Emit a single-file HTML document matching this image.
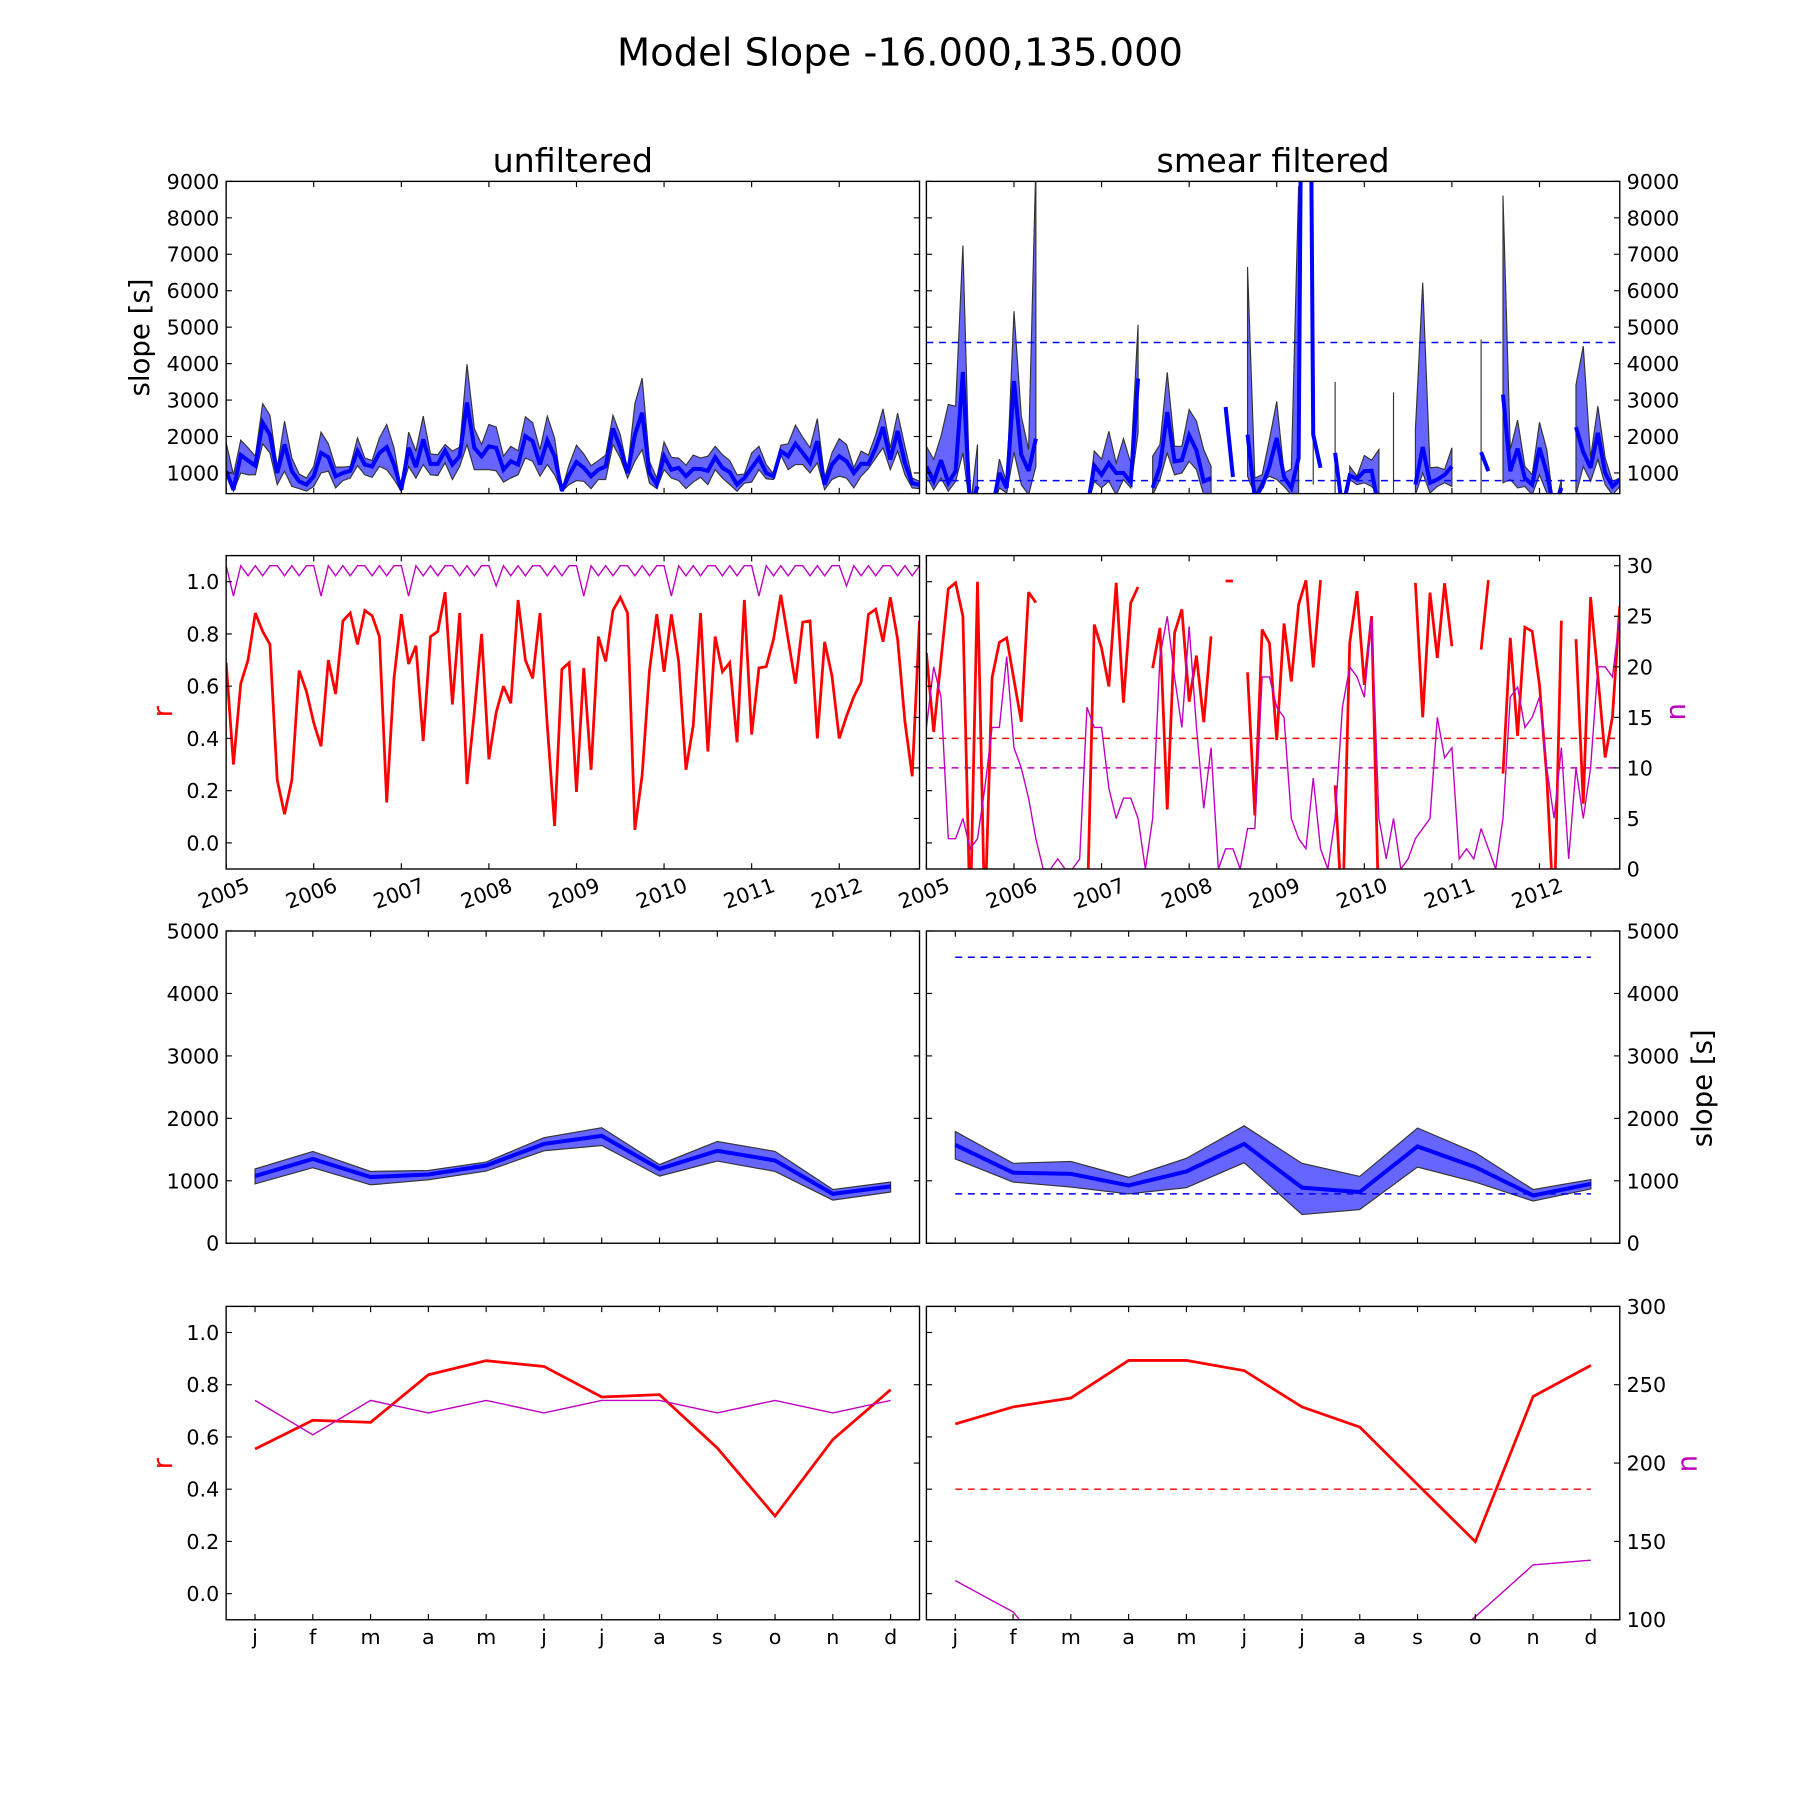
<!DOCTYPE html>
<html><head><meta charset="utf-8"><title>Model Slope</title>
<style>
html,body{margin:0;padding:0;background:#fff;}
svg{display:block;}
text{font-family:"DejaVu Sans","Liberation Sans",sans-serif;}
</style></head>
<body>
<svg id="fig" xmlns="http://www.w3.org/2000/svg" width="1800" height="1800" viewBox="0 0 1568 1568">
<rect x="0" y="0" width="1568" height="1568" fill="#fff"/>
<text x="784" y="57" font-size="33.5" text-anchor="middle">Model Slope -16.000,135.000</text>
<text x="499" y="150" font-size="29" text-anchor="middle">unfiltered</text>
<text x="1109" y="150" font-size="29" text-anchor="middle">smear filtered</text>
<g id="root"></g>
</svg>
<script>
// ---------- data ----------
const years = ["2005","2006","2007","2008","2009","2010","2011","2012"];
const months = ["j","f","m","a","m","j","j","a","s","o","n","d"];

// Row 1 left: monthly slope (unfiltered)
const uMean = [1050,540,1490,1340,1200,2380,2050,1000,1780,1050,770,680,910,1550,1430,910,1000,1060,1600,1230,1180,1550,1710,1230,540,1690,1160,1920,1250,1250,1610,1230,1460,2930,1690,1460,1730,1690,1090,1320,1230,2010,1870,1230,1890,1460,510,950,1300,1140,910,1090,1180,2220,1690,1000,2050,2650,1000,680,1460,1090,1140,910,1110,1110,1060,1430,1140,1020,680,860,1140,1410,1000,910,1600,1460,1800,1550,1280,1870,680,1230,1460,1320,1000,1250,1250,1690,2260,1370,2150,1280,720,680];
const uUpper = [1830,950,1900,1690,1460,2900,2580,1140,2420,1410,970,860,1180,2120,1800,1160,1160,1180,1960,1410,1340,1960,2330,1690,540,2120,1600,2560,1520,1500,1780,1600,1710,3980,2220,1780,2330,2260,1460,1730,1610,2540,2380,1640,2560,1960,540,1230,1760,1520,1200,1340,1490,2580,2050,1090,2900,3600,1320,860,1850,1430,1410,1210,1490,1410,1460,1730,1500,1340,950,970,1550,1730,1230,970,1760,1800,2310,1980,1690,2490,860,1550,1940,1780,1140,1600,1490,2050,2760,1690,2640,1730,860,770];
const uLower = [1000,500,1000,950,950,1800,1550,680,1050,630,570,500,630,1000,1050,590,790,860,1200,950,880,1180,1090,820,500,1180,860,1230,950,930,1280,820,1180,1780,1090,1090,1090,1060,750,860,950,1410,1320,910,1230,950,500,680,790,770,570,820,820,1780,1410,860,1320,1640,720,570,1090,860,790,570,750,880,680,1090,860,680,500,720,750,1090,840,820,1490,1090,1230,1230,1000,1280,540,820,910,860,590,910,1120,1410,1690,1090,1600,950,590,570];

// Row 1 right: monthly slope (smear filtered), null = missing
const N = null;
const sMean = [1180,770,1350,730,1050,3770,0,630,N,0,1000,590,3520,1500,1060,1940,N,N,N,N,N,N,0,1200,950,1270,1000,1000,740,3590,N,590,1180,2670,1320,1350,2030,1620,770,860,N,2810,890,N,2050,300,630,1180,1960,890,590,1410,30000,2050,1140,N,1550,0,930,840,1050,1060,0,N,N,N,N,680,1710,730,820,950,1180,N,N,N,1570,1050,N,3150,1050,1670,860,680,1690,1000,0,590,N,2260,1570,1140,2100,1000,630,820];
const sUpper = [1730,1370,2010,2880,2830,7240,0,1780,N,0,1380,730,5440,2560,1640,9500,N,N,N,N,N,N,0,1600,1380,2140,1270,1940,1270,5070,N,1460,1780,3760,1730,1730,2740,2420,1640,1180,N,N,N,N,6650,860,950,1920,2960,1000,1110,8870,N,2050,N,N,3500,N,1180,910,1480,1350,1640,N,3210,N,N,2190,6220,1140,1160,1090,1690,N,N,N,4660,N,N,8610,1640,2450,1180,950,2390,1640,0,820,N,3420,4480,1410,2830,1410,770,860];
const sLower = [910,540,860,500,770,1550,0,0,N,0,590,450,1570,680,400,1180,N,N,N,N,N,N,0,770,590,770,400,820,590,2100,N,400,820,1550,950,1000,1320,1090,400,400,N,N,N,N,910,400,770,910,820,630,400,440,N,680,N,N,0,N,820,680,730,630,400,N,0,N,N,400,1000,450,630,730,630,N,N,N,0,N,N,730,820,590,630,400,950,450,0,400,N,400,1180,770,1370,680,400,630];
const sThreshHigh = 4580;
const sThreshLow = 790;

// Row 2 left: r and n (unfiltered)
const uR = [0.69,0.30,0.61,0.70,0.88,0.81,0.76,0.24,0.11,0.24,0.66,0.58,0.46,0.37,0.70,0.57,0.85,0.88,0.76,0.89,0.87,0.79,0.155,0.63,0.876,0.685,0.755,0.39,0.79,0.81,0.96,0.53,0.88,0.225,0.50,0.80,0.32,0.50,0.60,0.535,0.93,0.70,0.63,0.88,0.45,0.065,0.665,0.69,0.195,0.67,0.28,0.79,0.695,0.89,0.94,0.88,0.05,0.26,0.66,0.876,0.655,0.875,0.695,0.28,0.45,0.88,0.35,0.79,0.655,0.69,0.385,0.93,0.415,0.67,0.675,0.78,0.95,0.78,0.61,0.845,0.85,0.40,0.77,0.64,0.40,0.485,0.56,0.615,0.875,0.895,0.77,0.94,0.78,0.465,0.255,0.85];
const uN = [30,27,30,29,30,29,30,30,29,30,29,30, 30,27,30,29,30,29,30,30,29,30,29,30, 30,27,30,29,30,29,30,30,29,30,29,30, 30,28,30,29,30,29,30,30,29,30,29,30, 30,27,30,29,30,29,30,30,29,30,29,30, 30,27,30,29,30,29,30,30,29,30,29,30, 30,27,30,29,30,29,30,30,29,30,29,30, 30,28,30,29,30,29,30,30,29,30,29,30];

// Row 2 right: r and n (smear filtered)
const sR = [0.727,0.425,0.70,0.973,0.996,0.868,-0.3,1.0,-0.3,0.633,0.768,0.785,0.624,0.464,0.96,0.92,N,N,N,N,N,N,-0.3,0.836,0.746,0.599,0.996,0.537,0.919,0.98,N,0.669,0.823,0.128,0.804,0.894,0.541,0.717,0.462,0.791,N,1.003,1.003,N,0.653,0.105,0.817,0.765,0.394,0.84,0.618,0.913,1.005,0.672,1.006,N,0.22,-0.3,0.765,0.964,0.605,0.868,-0.3,N,N,N,N,0.996,0.481,0.958,0.708,0.994,0.753,N,N,N,0.74,1.006,N,0.265,0.785,0.41,0.826,0.81,0.605,0.253,-0.3,0.851,N,0.78,0.15,0.941,0.637,0.327,0.483,0.906];
const sN = [14,20,17,3,3,5,2,3,8,14,14,21,12,10,7,3,0,0,1,0,0,1,16,14,14,8,5,7,7,5,0,5,21,25,19,14,24,14,6,12,0,2,2,0,4,4,19,19,16,15,5,3,2,9,2,0,5,16,20,19,17,25,5,1,5,0,1,3,4,5,15,11,12,1,2,1,4,2,0,5,17,18,14,15,17,10,5,12,1,10,5,10,20,20,19,25];
const rThresh = 0.4;
const nThresh = 10;

// Row 3: monthly climatology slope
const cuMean = [1075,1350,1060,1100,1245,1590,1720,1190,1480,1325,790,910];
const cuUpper = [1190,1470,1150,1165,1300,1690,1850,1260,1630,1470,860,980];
const cuLower = [950,1210,935,1015,1155,1480,1565,1075,1315,1150,690,820];
const csMean = [1575,1130,1110,925,1150,1590,890,820,1550,1220,765,950];
const csUpper = [1790,1280,1310,1055,1360,1880,1280,1070,1845,1450,860,1020];
const csLower = [1350,980,900,790,890,1290,460,540,1220,980,675,870];

// Row 4: monthly climatology r and n
const cuR = [0.554,0.664,0.656,0.838,0.892,0.870,0.753,0.762,0.558,0.297,0.590,0.781];
const cuN = [240,218,240,232,240,232,240,240,232,240,232,240];
const csR = [0.650,0.715,0.749,0.893,0.893,0.854,0.715,0.638,0.418,0.199,0.755,0.874];
const csN = [125,105,60,50,50,50,50,50,70,102,135,138];

// tick label arrays
const slopeTicks1 = [1000,2000,3000,4000,5000,6000,7000,8000,9000];
const slopeTicks3 = [0,1000,2000,3000,4000,5000];
const rTicks = [0.0,0.2,0.4,0.6,0.8,1.0];
const nTicks2 = [0,5,10,15,20,25,30];
const nTicks4 = [100,150,200,250,300];

// ---------- drawing ----------
const NS = "http://www.w3.org/2000/svg";
const root = document.getElementById('root');
function mk(tag, attrs, parent){
  const e = document.createElementNS(NS, tag);
  for (const k in attrs) e.setAttribute(k, attrs[k]);
  (parent||root).appendChild(e);
  return e;
}
const COLS = {L:[197,801], R:[807,1411]};
const ROWS = [[158,430],[484,757],[811,1083],[1138,1411]];
let clipId = 0;
function lin(d0,d1,r0,r1){ return v => r0 + (v-d0)/(d1-d0)*(r1-r0); }

function makePanel(col,row,name){
  const [x0,x1] = COLS[col], [y0,y1] = ROWS[row];
  const g = mk('g',{});
  
  
  const id = 'clip'+(clipId++);
  const cp = mk('clipPath',{id:id}, g);
  mk('rect',{x:x0,y:y0,width:x1-x0,height:y1-y0}, cp);
  const data = mk('g',{'clip-path':'url(#'+id+')'}, g);
  return {g,data,x0,x1,y0,y1};
}
function frame(p){
  const r = mk('rect',{x:p.x0,y:p.y0,width:p.x1-p.x0,height:p.y1-p.y0,fill:'none',stroke:'#000','stroke-width':1.2}, p.g);
  
  
}
function pathFrom(xs, ys){
  let d='', pen=false;
  for (let i=0;i<xs.length;i++){
    if (ys[i]===null || ys[i]===undefined){ pen=false; continue; }
    d += (pen?'L':'M') + xs[i].toFixed(2) + ',' + ys[i].toFixed(2);
    pen=true;
  }
  return d;
}
function drawLine(p, vals, xf, yf, color, w, name, dash){
  const xs = vals.map((v,i)=>xf(i));
  const ys = vals.map(v=> v===null?null:yf(v));
  const a = {d:pathFrom(xs,ys), fill:'none', stroke:color, 'stroke-width':w, 'stroke-linejoin':'miter','stroke-miterlimit':3};
  if (dash) a['stroke-dasharray']=dash;
  const e = mk('path', a, p.data);
  
  
}
function drawBand(p, up, lo, xf, yf, name){
  let i=0;
  const n = up.length;
  while (i<n){
    if (up[i]===null || lo[i]===null){ i++; continue; }
    let j=i;
    while (j+1<n && up[j+1]!==null && lo[j+1]!==null) j++;
    if (j===i){
      const e = mk('line',{x1:xf(i),x2:xf(i),y1:yf(up[i]),y2:yf(lo[i]),stroke:'#333','stroke-width':1}, p.data);
      
      
    } else {
      let d='';
      for (let k=i;k<=j;k++) d += (k===i?'M':'L') + xf(k).toFixed(2)+','+yf(up[k]).toFixed(2);
      for (let k=j;k>=i;k--) d += 'L' + xf(k).toFixed(2)+','+yf(lo[k]).toFixed(2);
      d+='Z';
      const e = mk('path',{d:d, fill:'#6666ff', stroke:'#333', 'stroke-width':1}, p.data);
      
      
    }
    i=j+1;
  }
}
function hline(p, v, yf, xa, xb, color, name){
  const e = mk('line',{x1:xa,x2:xb,y1:yf(v),y2:yf(v),stroke:color,'stroke-width':1.3,'stroke-dasharray':'6,5'}, p.data);
  
  
}
function yTicks(p, ticks, yf, side, labels, fmt){
  ticks.forEach(t=>{
    const y = yf(t);
    const x = side==='L'?p.x0:p.x1;
    const dir = side==='L'?1:-1;
    mk('line',{x1:x,x2:x+dir*5,y1:y,y2:y,stroke:'#000','stroke-width':1}, p.g);
    if (labels){
      const tx = mk('text',{x: side==='L'? x-6 : x+6, y:y+6.5, 'font-size':18,'text-anchor': side==='L'?'end':'start'}, p.g);
      tx.textContent = fmt? fmt(t) : String(t);
      
      
    }
  });
}
function xTicks(p, xs){
  xs.forEach(x=>{
    mk('line',{x1:x,x2:x,y1:p.y1,y2:p.y1-5,stroke:'#000','stroke-width':1}, p.g);
    mk('line',{x1:x,x2:x,y1:p.y0,y2:p.y0+5,stroke:'#000','stroke-width':1}, p.g);
  });
}
function ylabel(x,y,txt,color,name){
  const t = mk('text',{x:x,y:y,'font-size':24,'text-anchor':'middle',fill:color,transform:'rotate(-90 '+x+' '+y+')'});
  t.textContent = txt;
  
  
}

const monthlyX = p => i => p.x0 + i*(p.x1-p.x0)/95;
const climX = p => m => p.x0 + (m+0.5)*(p.x1-p.x0)/12;
const yearX = p => k => p.x0 + k*12*(p.x1-p.x0)/95;
const fmt1 = v => v.toFixed(1);

// ===== Row 1 =====
['L','R'].forEach(col=>{
  const p = makePanel(col,0, col==='L'?'slope-timeseries-unfiltered':'slope-timeseries-smear-filtered');
  const xf = monthlyX(p);
  const yf = lin(433,9000,p.y1,p.y0);
  const up = col==='L'?uUpper:sUpper, lo = col==='L'?uLower:sLower, me = col==='L'?uMean:sMean;
  drawBand(p, up, lo, xf, yf, 'slope-range-band');
  if (col==='R'){
    hline(p, sThreshHigh, yf, p.x0, p.x1, '#0000ff', 'upper-threshold-line');
    hline(p, sThreshLow, yf, p.x0, p.x1, '#0000ff', 'lower-threshold-line');
  }
  drawLine(p, me, xf, yf, '#0000ff', 3.5, 'slope-mean-line');
  frame(p);
  yTicks(p, slopeTicks1, yf, 'L', col==='L');
  yTicks(p, slopeTicks1, yf, 'R', col==='R');
  xTicks(p, years.map((y,k)=>yearX(p)(k)));
});
ylabel(130, 294, 'slope [s]', '#000', 'y-axis-title-slope');

// ===== Row 2 =====
['L','R'].forEach(col=>{
  const p = makePanel(col,1, col==='L'?'correlation-timeseries-unfiltered':'correlation-timeseries-smear-filtered');
  const xf = monthlyX(p);
  const yr = lin(-0.1,1.1,p.y1,p.y0);
  const yn = lin(0,31,p.y1,p.y0);
  if (col==='R'){
    hline(p, rThresh, yr, p.x0, p.x1, '#ff0000', 'r-threshold-line');
    hline(p, nThresh, yn, p.x0, p.x1, '#bf00bf', 'n-threshold-line');
  }
  drawLine(p, col==='L'?uR:sR, xf, yr, '#ff0000', 2.4, 'r-line');
  drawLine(p, col==='L'?uN:sN, xf, yn, '#bf00bf', 1.2, 'n-line');
  frame(p);
  yTicks(p, rTicks, yr, 'L', col==='L', fmt1);
  yTicks(p, nTicks2, yn, 'R', col==='R');
  const yx = yearX(p);
  xTicks(p, years.map((y,k)=>yx(k)));
  years.forEach((y,k)=>{
    const x = yx(k), ty = 784;
    const t = mk('text',{x:x, y:ty, 'font-size':18,'text-anchor':'middle',transform:'rotate(-20 '+x+' '+ty+')'}, p.g);
    t.textContent = y;
    
    
  });
});
ylabel(150, 620, 'r', '#ff0000', 'y-axis-title-r');
ylabel(1468, 620, 'n', '#bf00bf', 'y-axis-title-n');

// ===== Row 3 =====
['L','R'].forEach(col=>{
  const p = makePanel(col,2, col==='L'?'slope-climatology-unfiltered':'slope-climatology-smear-filtered');
  const xf = climX(p);
  const yf = lin(0,5000,p.y1,p.y0);
  drawBand(p, col==='L'?cuUpper:csUpper, col==='L'?cuLower:csLower, xf, yf, 'slope-range-band');
  if (col==='R'){
    hline(p, sThreshHigh, yf, xf(0), xf(11), '#0000ff', 'upper-threshold-line');
    hline(p, sThreshLow, yf, xf(0), xf(11), '#0000ff', 'lower-threshold-line');
  }
  drawLine(p, col==='L'?cuMean:csMean, xf, yf, '#0000ff', 3.5, 'slope-mean-line');
  frame(p);
  yTicks(p, slopeTicks3, yf, 'L', col==='L');
  yTicks(p, slopeTicks3, yf, 'R', col==='R');
  xTicks(p, months.map((m,i)=>xf(i)));
});
ylabel(1491, 948, 'slope [s]', '#000', 'y-axis-title-slope-right');

// ===== Row 4 =====
['L','R'].forEach(col=>{
  const p = makePanel(col,3, col==='L'?'correlation-climatology-unfiltered':'correlation-climatology-smear-filtered');
  const xf = climX(p);
  const yr = lin(-0.1,1.1,p.y1,p.y0);
  const yn = lin(100,300,p.y1,p.y0);
  if (col==='R') hline(p, rThresh, yr, xf(0), xf(11), '#ff0000', 'r-threshold-line');
  drawLine(p, col==='L'?cuR:csR, xf, yr, '#ff0000', 2.4, 'r-line');
  drawLine(p, col==='L'?cuN:csN, xf, yn, '#bf00bf', 1.2, 'n-line');
  frame(p);
  yTicks(p, rTicks, yr, 'L', col==='L', fmt1);
  yTicks(p, nTicks4, yn, 'R', col==='R');
  xTicks(p, months.map((m,i)=>xf(i)));
  months.forEach((m,i)=>{
    const t = mk('text',{x:xf(i), y:1432, 'font-size':18,'text-anchor':'middle'}, p.g);
    t.textContent = m;
    
    
  });
});
ylabel(150, 1275, 'r', '#ff0000', 'y-axis-title-r-bottom');
ylabel(1478, 1275, 'n', '#bf00bf', 'y-axis-title-n-bottom');
</script>
</body></html>
